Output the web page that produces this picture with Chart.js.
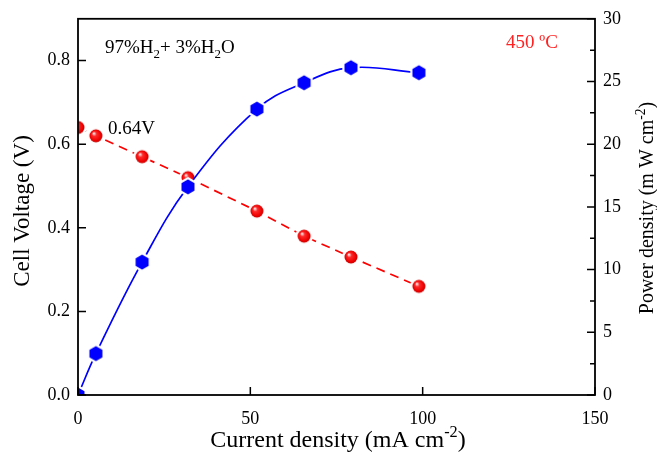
<!DOCTYPE html>
<html>
<head>
<meta charset="utf-8">
<script src="https://cdn.jsdelivr.net/npm/chart.js@4/dist/chart.umd.min.js"></script>
<style>
  html, body { margin: 0; padding: 0; background: #fff; }
  #wrap { width: 657px; height: 460px; }
</style>
</head>
<body>
<div id="wrap"><canvas id="cv" width="657" height="460"></canvas></div>
<script>
// current density (mA cm-2)
const current = [0, 5.2, 18.6, 31.9, 51.9, 65.6, 79.2, 98.9];
// cell voltage (V)
const voltage = [0.64, 0.62, 0.57, 0.52, 0.44, 0.38, 0.33, 0.26];
// power density (mW cm-2)
const power = [0, 3.3, 10.6, 16.6, 22.8, 24.9, 26.1, 25.7];

const xTicks = [0, 50, 100, 150];
const yTicks = [0, 0.2, 0.4, 0.6, 0.8];
const y2Ticks = [0, 5, 10, 15, 20, 25, 30];

const SERIF = '"Liberation Serif", "Times New Roman", serif';

function hexMarker(r, color) {
  const ring = 2.5, s = Math.ceil(2 * (r + ring) + 2);
  const c = document.createElement('canvas');
  c.width = s; c.height = s;
  const g = c.getContext('2d');
  const hex = (rad) => {
    g.beginPath();
    for (let i = 0; i < 6; i++) {
      const a = Math.PI / 2 + i * Math.PI / 3;
      const px = s / 2 + rad * Math.cos(a), py = s / 2 + rad * Math.sin(a);
      i ? g.lineTo(px, py) : g.moveTo(px, py);
    }
    g.closePath();
  };
  g.fillStyle = '#fff'; hex(r + ring); g.fill();
  g.fillStyle = color; hex(r); g.fill();
  return c;
}

function ballMarker(r) {
  const ring = 2.5, s = Math.ceil(2 * (r + ring) + 2);
  const c = document.createElement('canvas');
  c.width = s; c.height = s;
  const g = c.getContext('2d');
  const m = s / 2;
  g.fillStyle = '#fff';
  g.beginPath(); g.arc(m, m, r + ring, 0, Math.PI * 2); g.fill();
  const grad = g.createRadialGradient(m - r * 0.35, m - r * 0.4, 0.5, m, m, r);
  grad.addColorStop(0, '#ffe6e6');
  grad.addColorStop(0.3, '#ff2a2a');
  grad.addColorStop(0.8, '#ee0000');
  grad.addColorStop(1, '#c40000');
  g.fillStyle = grad;
  g.beginPath(); g.arc(m, m, r, 0, Math.PI * 2); g.fill();
  return c;
}

// text with sub/superscripts: parts = [[text, 'n'|'sub'|'sup'], ...]
function richText(ctx, parts, x, y, size, color) {
  ctx.fillStyle = color;
  ctx.textBaseline = 'alphabetic';
  ctx.textAlign = 'left';
  let cx = x;
  parts.forEach(([t, k]) => {
    const fs = k === 'n' ? size : size * 0.68;
    const dy = k === 'sub' ? size * 0.28 : k === 'sup' ? -size * 0.42 : 0;
    ctx.font = fs + 'px ' + SERIF;
    ctx.fillText(t, cx, y + dy);
    cx += ctx.measureText(t).width;
  });
  return cx - x;
}
function richWidth(ctx, parts, size) {
  let w = 0;
  parts.forEach(([t, k]) => {
    ctx.font = (k === 'n' ? size : size * 0.68) + 'px ' + SERIF;
    w += ctx.measureText(t).width;
  });
  return w;
}

const framePlugin = {
  id: 'frame',
  afterDatasetsDraw(chart) {
    const ctx = chart.ctx, a = chart.chartArea;
    const x = chart.scales.x, y = chart.scales.y, y2 = chart.scales.y2;
    ctx.save();
    ctx.strokeStyle = '#000';
    ctx.lineWidth = 1.8;
    ctx.strokeRect(a.left, a.top, a.right - a.left, a.bottom - a.top);
    ctx.lineWidth = 1.5;
    ctx.beginPath();
    yTicks.forEach(v => { const p = y.getPixelForValue(v); ctx.moveTo(a.left, p); ctx.lineTo(a.left + 8, p); });
    for (let v = 0; v <= 30; v += 2.5) {
      const p = y2.getPixelForValue(v);
      const len = v % 5 === 0 ? 8 : 5;
      ctx.moveTo(a.right, p); ctx.lineTo(a.right - len, p);
    }
    xTicks.forEach(v => { const p = x.getPixelForValue(v); ctx.moveTo(p, a.bottom); ctx.lineTo(p, a.bottom - 8); });
    ctx.stroke();

    // annotations
    richText(ctx, [['97%H', 'n'], ['2', 'sub'], ['+ 3%H', 'n'], ['2', 'sub'], ['O', 'n']], 105, 53, 19, '#000');
    richText(ctx, [['0.64V', 'n']], 108, 134, 19, '#000');
    richText(ctx, [['450 ºC', 'n']], 506, 48, 19, '#ff2222');

    // axis titles
    const xt = [['Current density (mA cm', 'n'], ['-2', 'sup'], [')', 'n']];
    const xw = richWidth(ctx, xt, 24);
    richText(ctx, xt, 338 - xw / 2, 447, 24, '#000');

    const yt = [['Cell Voltage (V)', 'n']];
    const yw = richWidth(ctx, yt, 23);
    ctx.save();
    ctx.translate(29, 211);
    ctx.rotate(-Math.PI / 2);
    richText(ctx, yt, -yw / 2, 0, 23, '#000');
    ctx.restore();

    const rt = [['Power density (m W cm', 'n'], ['-2', 'sup'], [')', 'n']];
    const rw = richWidth(ctx, rt, 20);
    ctx.save();
    ctx.translate(653, 208);
    ctx.rotate(-Math.PI / 2);
    richText(ctx, rt, -rw / 2, 0, 20, '#000');
    ctx.restore();
    ctx.restore();
  }
};

const tickFont = { family: SERIF, size: 18 };

new Chart(document.getElementById('cv').getContext('2d'), {
  type: 'line',
  data: {
    datasets: [{
      label: 'Power density',
      data: current.map((c, i) => ({ x: c, y: power[i] })),
      yAxisID: 'y2',
      borderColor: '#0000ff',
      borderWidth: 1.7,
      tension: 0.4,
      pointStyle: hexMarker(7.5, '#0000ff'),
      order: 0
    }, {
      label: 'Cell voltage',
      data: current.map((c, i) => ({ x: c, y: voltage[i] })),
      yAxisID: 'y',
      borderColor: '#ff0000',
      borderWidth: 1.7,
      borderDash: [9, 6],
      tension: 0,
      pointStyle: ballMarker(6.5),
      order: 1
    }]
  },
  options: {
    responsive: false,
    animation: false,
    events: [],
    layout: { padding: { top: 16, left: 0, right: 0, bottom: 0 } },
    plugins: { legend: { display: false }, tooltip: { enabled: false } },
    scales: {
      x: {
        type: 'linear', min: 0, max: 150,
        afterBuildTicks: s => { s.ticks = xTicks.map(v => ({ value: v })); },
        afterFit: s => { s.height = 65; },
        grid: { display: false, drawTicks: false },
        border: { display: false },
        ticks: { font: tickFont, color: '#000', padding: 13, maxRotation: 0 }
      },
      y: {
        type: 'linear', position: 'left', min: 0, max: 0.9,
        afterBuildTicks: s => { s.ticks = yTicks.map(v => ({ value: v })); },
        afterFit: s => { s.width = 78; },
        grid: { display: false, drawTicks: false },
        border: { display: false },
        ticks: { font: tickFont, color: '#000', padding: 8, callback: v => v.toFixed(1) }
      },
      y2: {
        type: 'linear', position: 'right', min: 0, max: 30,
        afterBuildTicks: s => { s.ticks = y2Ticks.map(v => ({ value: v })); },
        afterFit: s => { s.width = 62; },
        grid: { display: false, drawTicks: false },
        border: { display: false },
        ticks: { font: tickFont, color: '#000', padding: 8 }
      }
    }
  },
  plugins: [framePlugin]
});
</script>
</body>
</html>
